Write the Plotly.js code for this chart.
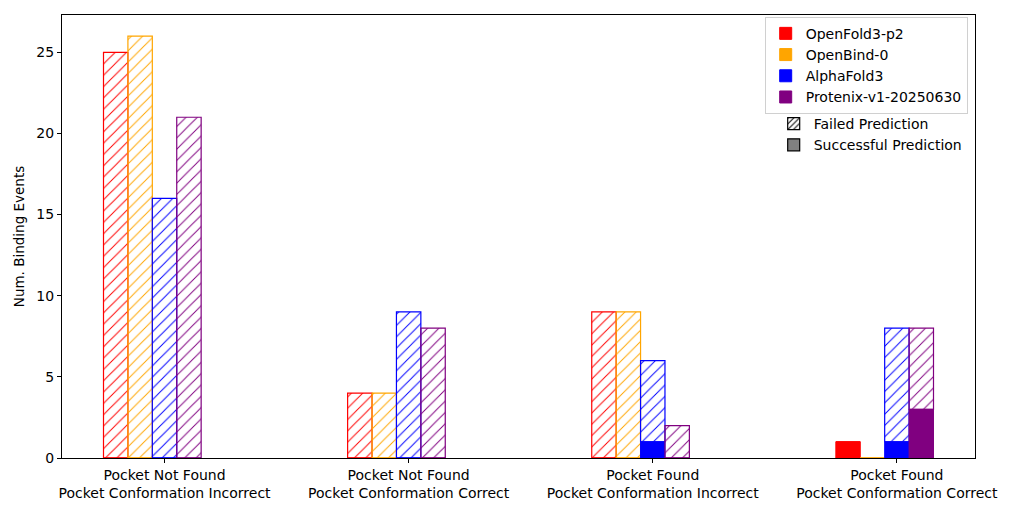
<!DOCTYPE html>
<html>
<head>
<meta charset="utf-8">
<script src="https://cdn.plot.ly/plotly-3.0.1.min.js"></script>
<style>html,body{margin:0;padding:0;background:#fff;}#chart{width:1024px;height:512px;}</style>
</head>
<body>
<div id="chart"></div>
<script>
const categories = [
  "Pocket Not Found<br>Pocket Conformation Incorrect",
  "Pocket Not Found<br>Pocket Conformation Correct",
  "Pocket Found<br>Pocket Conformation Incorrect",
  "Pocket Found<br>Pocket Conformation Correct"
];
const models = ["OpenFold3-p2", "OpenBind-0", "AlphaFold3", "Protenix-v1-20250630"];
const modelColors = ["#ff0000", "#ffa500", "#0000ff", "#800080"];

// Successful predictions (solid) per model, per category
const successOF3 = [0, 0, 0, 1];
const successOB = [0, 0, 0, 0];
const successAF3 = [0, 0, 1, 1];
const successPX = [0, 0, 0, 3];

// Failed predictions (hatched) per model, per category, stacked on success
const failedOF3 = [25, 4, 9, 0];
const failedOB = [26, 4, 9, 0];
const failedAF3 = [16, 9, 5, 7];
const failedPX = [21, 8, 2, 5];

const successAll = [successOF3, successOB, successAF3, successPX];
const failedAll = [failedOF3, failedOB, failedAF3, failedPX];

const xIdx = categories.map((c, i) => i);
const W = 0.1;
const traces = [];

models.forEach((m, k) => {
  const off = (k - 2) * W - W / 2;
  traces.push({
    type: "bar", x: xIdx, y: successAll[k], base: 0,
    offset: off, width: W, name: m, legend: "legend",
    marker: {color: modelColors[k], line: {color: modelColors[k], width: 1}},
    hoverinfo: "skip"
  });
  traces.push({
    type: "bar", x: xIdx, y: failedAll[k], base: successAll[k],
    offset: off, width: W, name: m + " failed", showlegend: false,
    marker: {
      color: "rgba(255,255,255,0)",
      line: {color: modelColors[k], width: 1.2},
      pattern: {shape: "/", fgcolor: modelColors[k], bgcolor: "rgba(255,255,255,0)", size: 8, solidity: 0.12}
    },
    hoverinfo: "skip"
  });
});

traces.push({
  type: "bar", x: [null], y: [null], name: "Failed Prediction", legend: "legend2",
  marker: {color: "#ffffff", line: {color: "#000000", width: 1.2},
    pattern: {shape: "/", fgcolor: "#000000", bgcolor: "#ffffff", size: 5, solidity: 0.25}}
});
traces.push({
  type: "bar", x: [null], y: [null], name: "Successful Prediction", legend: "legend2",
  marker: {color: "#808080", line: {color: "#000000", width: 1.2}}
});

const layout = {
  width: 1024, height: 512,
  margin: {l: 62, r: 49, t: 15, b: 54},
  paper_bgcolor: "#ffffff", plot_bgcolor: "#ffffff",
  font: {family: "DejaVu Sans, sans-serif", size: 14, color: "#000000"},
  barmode: "overlay",
  xaxis: {
    range: [-0.42, 3.32], tickvals: xIdx, ticktext: categories,
    showline: true, mirror: true, linecolor: "#000000", linewidth: 1,
    ticks: "outside", ticklen: 4, tickcolor: "#000000",
    showgrid: false, zeroline: false, tickfont: {size: 14}
  },
  yaxis: {
    range: [0, 27.3], tickvals: [0, 5, 10, 15, 20, 25],
    showline: true, mirror: true, linecolor: "#000000", linewidth: 1,
    ticks: "outside", ticklen: 4, tickcolor: "#000000",
    showgrid: false, zeroline: false, tickfont: {size: 14},
    title: {text: "Num. Binding Events", font: {size: 13.5}, standoff: 8}
  },
  legend: {
    x: 0.992, xanchor: "right", y: 0.996, yanchor: "top",
    bgcolor: "#ffffff", bordercolor: "#d0d0d0", borderwidth: 1,
    font: {size: 14}, traceorder: "normal"
  },
  legend2: {
    x: 0.992, xanchor: "right", y: 0.79, yanchor: "top",
    bgcolor: "rgba(255,255,255,0)", borderwidth: 0,
    font: {size: 14}, traceorder: "normal"
  },
  showlegend: true
};

Plotly.newPlot("chart", traces, layout, {staticPlot: true, displayModeBar: false});
</script>
</body>
</html>
